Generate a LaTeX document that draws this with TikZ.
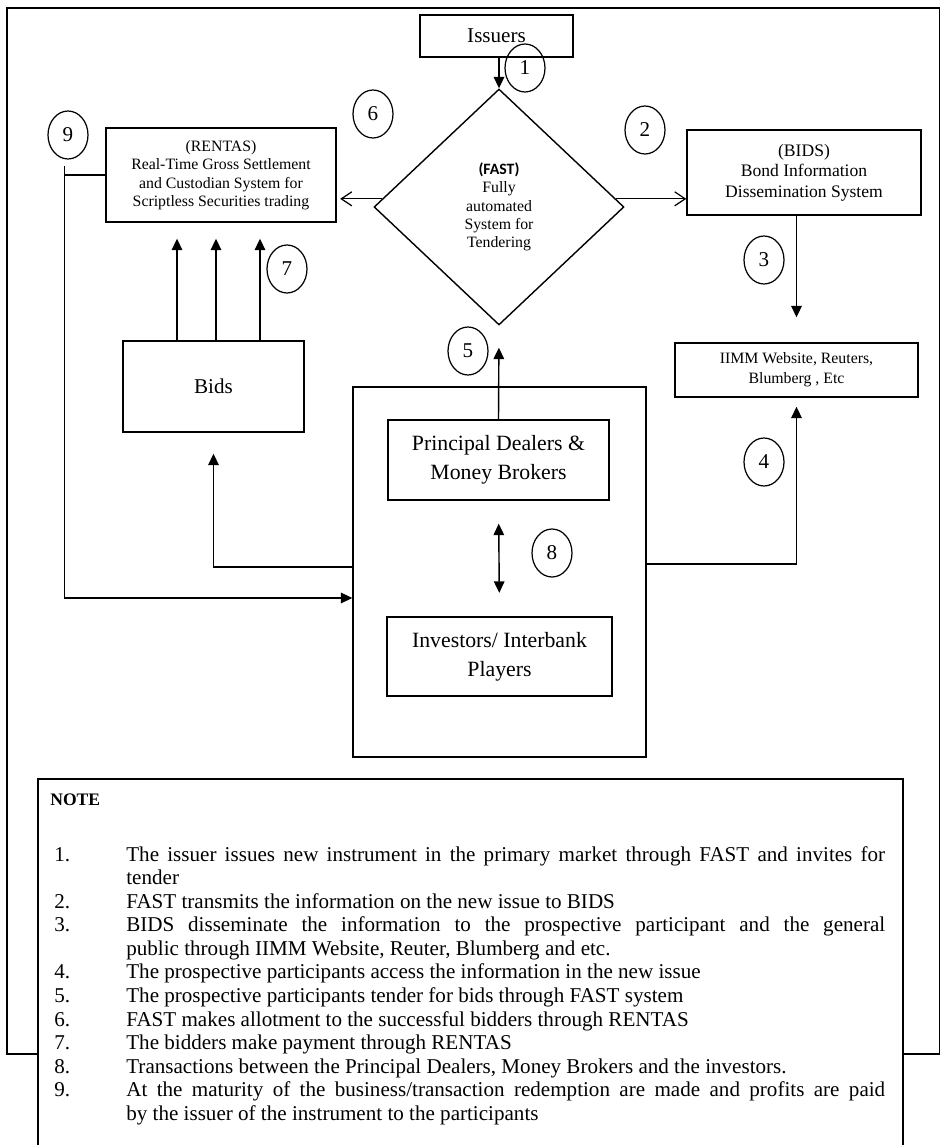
\documentclass[tikz,border=0pt]{standalone}
\usepackage{fontspec}
\setmainfont{Liberation Serif}
\newfontfamily\calfont{Carlito}
\usetikzlibrary{shapes.geometric,arrows.meta}

\newcommand{\noteitem}[2]{\hangindent=1.44cm\hangafter=1\noindent\makebox[1.44cm][l]{#1.}#2\par}

\tikzset{
	box/.style={draw, line width=0.8pt, inner sep=2pt, align=center},
	num/.style={draw, ellipse, line width=0.7pt, minimum width=0.8cm, minimum height=0.96cm, inner sep=0pt, font=\fontsize{12}{14}\selectfont},
	arr/.style={line width=0.8pt, -{Triangle[length=6.5pt,width=6pt]}},
	arrboth/.style={line width=0.8pt, {Triangle[length=6.5pt,width=6pt]}-{Triangle[length=6.5pt,width=6pt]}},
	openarr/.style={line width=0.7pt, -{Straight Barb[length=6pt,width=8pt]}},
}

\begin{document}
\begin{tikzpicture}[x=0.02cm, y=-0.02cm]

	\useasboundingbox (0,0) rectangle (941,1145);
	\draw[line width=1pt] (7,1054) -- (7,8) -- (939.5,8) -- (939.5,1054) -- cycle;

	\node[box, minimum width=3.06cm, minimum height=0.84cm, font=\fontsize{12}{14}\selectfont] (issuers) at (496.5,36) {Issuers};
	\node[draw, diamond, line width=0.8pt, minimum width=5cm, minimum height=4.72cm, inner sep=0pt, align=center, font=\fontsize{9}{10.4}\selectfont] (fast) at (499,207) {{\calfont\bfseries (FAST)}\\Fully\\automated\\System for\\Tendering};
	\node[box, minimum width=4.6cm, minimum height=1.88cm, font=\fontsize{9}{10.5}\selectfont] (rentas) at (221,175) {(RENTAS)\\Real-Time Gross Settlement\\and Custodian System for\\Scriptless Securities trading};
	\node[box, minimum width=4.68cm, minimum height=1.7cm, font=\fontsize{10}{11.6}\selectfont] (bids) at (804,172.5) {(BIDS)\\Bond Information\\Dissemination System};
	\node[box, minimum width=4.86cm, minimum height=1.08cm, font=\fontsize{9}{11.3}\selectfont] (iimm) at (796.5,370) {IIMM Website, Reuters,\\Blumberg , Etc};
	\node[box, minimum width=3.62cm, minimum height=1.82cm, font=\fontsize{12}{14}\selectfont] (bidbox) at (213.5,386.5) {Bids};
	\node[box, minimum width=5.86cm, minimum height=7.4cm] (market) at (499.5,572) {};
	\node[box, minimum width=4.42cm, minimum height=1.6cm, font=\fontsize{12.4}{16.4}\selectfont] (dealers) at (498.5,460) {Principal Dealers \&\\Money Brokers};
	\node[box, minimum width=4.5cm, minimum height=1.58cm, font=\fontsize{12.4}{16.4}\selectfont] (investors) at (499.5,656.5) {Investors/ Interbank\\Players};

	\foreach \n / \x / \y in {
	1/525/68,
	2/645/130,
	3/764/260,
	4/764/462,
	5/468/351,
	6/373/114,
	7/287/269,
	8/552/553,
	9/68/135}
	{
		\node[num] (c\n) at (\x,\y) {\n};
	};

	\draw[arr] (fast.north |- issuers.south) -- (fast.north);
	\draw[openarr] (fast.4) -- (fast.4 -| bids.west);
	\draw[openarr, shorten >=2pt] (fast.176) -- (fast.176 -| rentas.east);
	\draw[arr, shorten >=0.5cm] (iimm.north |- bids.south) -- (iimm.north);
	\draw[arr, shorten >=0.18cm] ([yshift=0.16cm]market.east) -| (iimm.south);
	\draw[arr, shorten >=0.44cm] (dealers.north) -- (fast.south);

	\foreach \dx in {-0.73,0.05,0.93}
	{
		\draw[arr, shorten >=0.32cm] ([xshift=\dx cm]bidbox.north) -- ([xshift=\dx cm]bidbox.north |- rentas.south);
	};

	\draw[arrboth, shorten <=0.46cm, shorten >=0.47cm] (dealers.south) -- (investors.north);
	\draw[arr, shorten >=0.42cm] ([yshift=0.1cm]market.west) -| (bidbox.south);
	\draw[line width=0.8pt] (rentas.west) -- ++(-41,0);
	\draw[arr] ([xshift=-0.82cm, yshift=0.18cm]rentas.west) |- ([yshift=-0.52cm]market.west);

	\draw[fill=white, line width=0.8pt] (38,1145) |- (903,779) -- (903,1145);
	\node[anchor=base west, inner sep=0pt, font=\fontsize{10}{12}\selectfont\bfseries] (notehead) at (50,805) {NOTE};
	\node[anchor=north west, inner sep=0pt, text width=16.62cm, align=justify, font=\fontsize{12}{13.4}\selectfont] (notelist) at (54,846) {%
		\noteitem{1}{The issuer issues new instrument in the primary market through FAST and invites for\linebreak tender}
		\noteitem{2}{FAST transmits the information on the new issue to BIDS}
		\noteitem{3}{BIDS disseminate the information to the prospective participant and the general\linebreak public through IIMM Website, Reuter, Blumberg and etc.}
		\noteitem{4}{The prospective participants access the information in the new issue}
		\noteitem{5}{The prospective participants tender for bids through FAST system}
		\noteitem{6}{FAST makes allotment to the successful bidders through RENTAS}
		\noteitem{7}{The bidders make payment through RENTAS}
		\noteitem{8}{Transactions between the Principal Dealers, Money Brokers and the investors.}
		\noteitem{9}{At the maturity of the business/transaction redemption are made and profits are paid\linebreak by the issuer of the instrument to the participants}%
	};

\end{tikzpicture}
\end{document}
